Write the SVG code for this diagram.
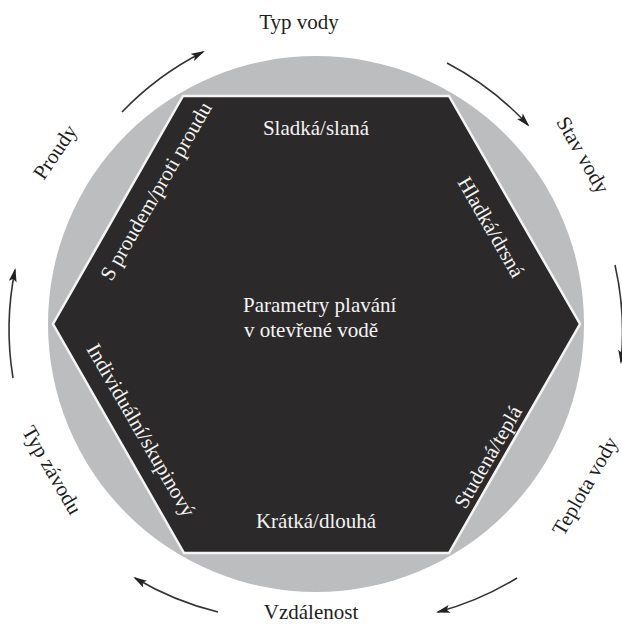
<svg xmlns="http://www.w3.org/2000/svg" width="622" height="626" viewBox="0 0 622 626">
  <style>
    .lbl { font-family: "Liberation Serif", "Times New Roman", serif; font-size: 21px; text-anchor: middle; }
    .out { fill: #1e1e1e; }
    .in { fill: #f4f4f4; }
    .arc { fill: none; stroke: #333; stroke-width: 1.6; marker-end: url(#head); }
  </style>
  <defs>
    <marker id="head" viewBox="0 0 14 8" refX="12" refY="4" markerWidth="14" markerHeight="8" markerUnits="userSpaceOnUse" orient="auto">
      <path d="M0,0 L14,4 L0,8 L3,4 Z" fill="#222"/>
    </marker>
  </defs>
  <rect width="622" height="626" fill="#fff"/>

  <!-- background disc -->
  <g id="ring">
    <circle cx="316" cy="324" r="268" fill="#bcbdbf"/>
  </g>

  <!-- central hexagon with its six edge labels -->
  <g id="hexagon">
    <polygon points="183,96 449,96 580,324 449,553 184,553 53,324" fill="#2b2929" stroke="#f4f4f4" stroke-width="2.5"/>
    <text class="lbl in" x="243" y="312" style="text-anchor:start">Parametry plavání</text>
    <text class="lbl in" x="244" y="337" style="text-anchor:start">v otevřené vodě</text>
  </g>
  <g id="edge-top"><text class="lbl in" x="316" y="135">Sladká/slaná</text></g>
  <g id="edge-upper-right"><text class="lbl in" transform="translate(491,227) rotate(60)" y="7">Hladká/drsná</text></g>
  <g id="edge-lower-right"><text class="lbl in" transform="translate(488,457) rotate(-60)" y="7">Studená/teplá</text></g>
  <g id="edge-bottom"><text class="lbl in" x="316" y="528">Krátká/dlouhá</text></g>
  <g id="edge-lower-left"><text class="lbl in" transform="translate(141,430) rotate(60)" y="7">Individuální/skupinový</text></g>
  <g id="edge-upper-left"><text class="lbl in" transform="translate(156,191) rotate(-60)" y="7">S proudem/proti proudu</text></g>

  <!-- outer category labels -->
  <g id="typ-vody"><text class="lbl out" x="299" y="29">Typ vody</text></g>
  <g id="stav-vody"><text class="lbl out" transform="translate(583,155) rotate(60)" y="7">Stav vody</text></g>
  <g id="teplota-vody"><text class="lbl out" transform="translate(585,486) rotate(-60)" y="7">Teplota vody</text></g>
  <g id="vzdalenost"><text class="lbl out" x="311" y="619">Vzdálenost</text></g>
  <g id="typ-zavodu"><text class="lbl out" transform="translate(52,470) rotate(60)" y="7">Typ závodu</text></g>
  <g id="proudy"><text class="lbl out" transform="translate(55,152) rotate(-56)" y="7">Proudy</text></g>

  <!-- clockwise arrows around the disc -->
  <g id="connectors">
    <path class="arc" d="M122,112 A300,300 0 0 1 203,52"/>
    <path class="arc" d="M447,63 A300,300 0 0 1 528,125"/>
    <path class="arc" d="M615,265 A300,300 0 0 1 621,362"/>
    <path class="arc" d="M517,578 A300,300 0 0 1 438,612"/>
    <path class="arc" d="M218,612 A300,300 0 0 1 135,578"/>
    <path class="arc" d="M13,378 A300,300 0 0 1 15,270"/>
  </g>
</svg>
